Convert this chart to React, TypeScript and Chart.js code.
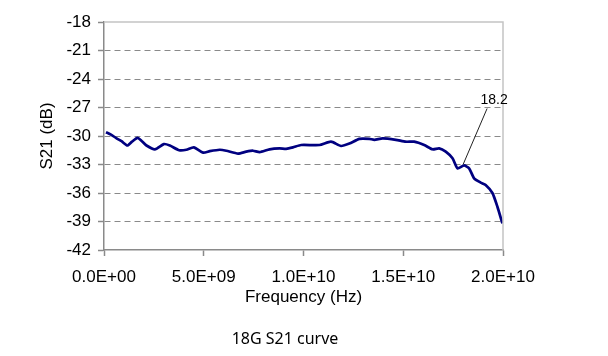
import React, { useEffect, useRef } from "react";
import { Chart, registerables } from "chart.js";

Chart.register(...registerables);

// Frequency in GHz and S21 in dB
const freqGHz = [
  0.1, 0.35, 0.63, 0.88, 1.17, 1.4, 1.68, 1.9, 2.13, 2.55, 3.0, 3.3, 3.77, 4.13, 4.5, 4.97,
  5.3, 5.8, 6.13, 6.72, 7.13, 7.47, 7.8, 8.3, 8.8, 9.13, 9.47, 9.88, 10.8, 11.38, 11.88,
  12.3, 12.8, 13.3, 13.55, 13.97, 14.63, 15.13, 15.55, 16.05, 16.47, 16.8, 17.13, 17.47,
  17.72, 18.05, 18.3, 18.55, 18.88, 19.13, 19.47, 19.72, 19.97,
];
const s21dB = [
  -29.6, -29.85, -30.25, -30.55, -31.0, -30.6, -30.2, -30.55, -31.0, -31.4, -30.85, -31.0,
  -31.5, -31.45, -31.2, -31.75, -31.6, -31.45, -31.55, -31.85, -31.65, -31.55, -31.7, -31.4,
  -31.3, -31.35, -31.2, -30.95, -30.95, -30.6, -31.05, -30.8, -30.3, -30.3, -30.4, -30.25,
  -30.4, -30.6, -30.6, -30.95, -31.4, -31.3, -31.65, -32.35, -33.4, -33.1, -33.4, -34.45,
  -34.9, -35.15, -36.0, -37.45, -39.2,
];
const xTicks = [0, 5e9, 1e10, 1.5e10, 2e10];
const yTicks = [-42, -39, -36, -33, -30, -27, -24, -21, -18];
const annotPoint = { x: 1.8e10, y: -33 };
const annotLabel = "18.2";
const xTitle = "Frequency (Hz)";
const yTitle = "S21 (dB)";
const caption = "18G S21 curve";

function fmtExp(v: number): string {
  const [m, e] = v.toExponential(1).split("e");
  const sign = e.startsWith("-") ? "-" : "+";
  const digits = e.replace(/^[+-]/, "").padStart(2, "0");
  return `${m}E${sign}${digits}`;
}

const AXIS = "#8a8a8a";
const FONT = "'Liberation Sans', Arial, sans-serif";

const extrasPlugin = {
  id: "extras",
  afterDraw(chart: any) {
    const { ctx, chartArea, scales } = chart;
    ctx.save();
    // light frame on top and right
    ctx.strokeStyle = "#c4c4c4";
    ctx.lineWidth = 1.5;
    ctx.beginPath();
    ctx.moveTo(chartArea.left, chartArea.top);
    ctx.lineTo(chartArea.right, chartArea.top);
    ctx.lineTo(chartArea.right, chartArea.bottom);
    ctx.stroke();
    // annotation leader
    const px = scales.x.getPixelForValue(annotPoint.x);
    const py = scales.y.getPixelForValue(annotPoint.y);
    ctx.strokeStyle = "#222";
    ctx.lineWidth = 1;
    ctx.beginPath();
    ctx.moveTo(px, py);
    ctx.lineTo(px + 24, py - 56);
    ctx.stroke();
    ctx.fillStyle = "#000";
    ctx.font = `14px ${FONT}`;
    ctx.textAlign = "center";
    ctx.textBaseline = "middle";
    ctx.fillText(annotLabel, px + 31, py - 64);
    // caption
    ctx.font = "16px 'Noto Sans', sans-serif";
    ctx.fillText(caption, 285, 339);
    ctx.restore();
  },
};

export default function App() {
  const ref = useRef<HTMLCanvasElement | null>(null);
  useEffect(() => {
    if (!ref.current) return;
    const data = freqGHz.map((f, i) => ({ x: f * 1e9, y: s21dB[i] }));
    const chart = new Chart(ref.current, {
      type: "line",
      data: {
        datasets: [
          {
            data,
            borderColor: "#000080",
            borderWidth: 2.7,
            pointRadius: 0,
            tension: 0.2,
            fill: false,
          },
        ],
      },
      plugins: [extrasPlugin],
      options: {
        animation: false,
        responsive: true,
        maintainAspectRatio: false,
        layout: { padding: { top: 22, right: 105, left: 0, bottom: 0 } },
        plugins: { legend: { display: false }, tooltip: { enabled: false } },
        scales: {
          x: {
            type: "linear",
            min: 0,
            max: 2e10,
            afterFit: (s: any) => {
              s.height = 106;
            },
            afterBuildTicks: (s: any) => {
              s.ticks = xTicks.map((v) => ({ value: v }));
            },
            ticks: {
              autoSkip: false,
              maxRotation: 0,
              padding: 11,
              color: "#000",
              font: { family: FONT, size: 17 },
              callback: (v: any) => fmtExp(Number(v)),
            },
            grid: {
              drawOnChartArea: false,
              drawTicks: true,
              tickLength: 6,
              tickColor: AXIS,
              tickWidth: 1.5,
            },
            border: { display: true, color: AXIS, width: 1.5 },
            title: {
              display: true,
              text: xTitle,
              color: "#000",
              font: { family: FONT, size: 17 },
              padding: { top: 0, bottom: 48 },
            },
          },
          y: {
            type: "linear",
            min: -42,
            max: -18,
            afterFit: (s: any) => {
              s.width = 104;
            },
            afterBuildTicks: (s: any) => {
              s.ticks = yTicks.map((v) => ({ value: v }));
            },
            ticks: {
              padding: 7,
              color: "#000",
              font: { family: FONT, size: 17 },
            },
            grid: {
              color: (c: any) =>
                c.tick && (c.tick.value === -18 || c.tick.value === -42) ? "rgba(0,0,0,0)" : AXIS,
              lineWidth: 1,
              drawTicks: true,
              tickLength: 6,
              tickColor: AXIS,
              tickWidth: 1.5,
              tickBorderDash: [],
            },
            border: { display: true, color: AXIS, width: 1.5, dash: [6, 4] },
            title: {
              display: true,
              text: yTitle,
              color: "#000",
              font: { family: FONT, size: 17 },
              padding: { top: 37, bottom: 0 },
            },
          },
        },
      } as any,
    });
    return () => chart.destroy();
  }, []);
  return (
    <div style={{ position: "fixed", left: 0, top: 0, width: 608, height: 356, background: "#fff" }}>
      <canvas ref={ref} />
    </div>
  );
}
